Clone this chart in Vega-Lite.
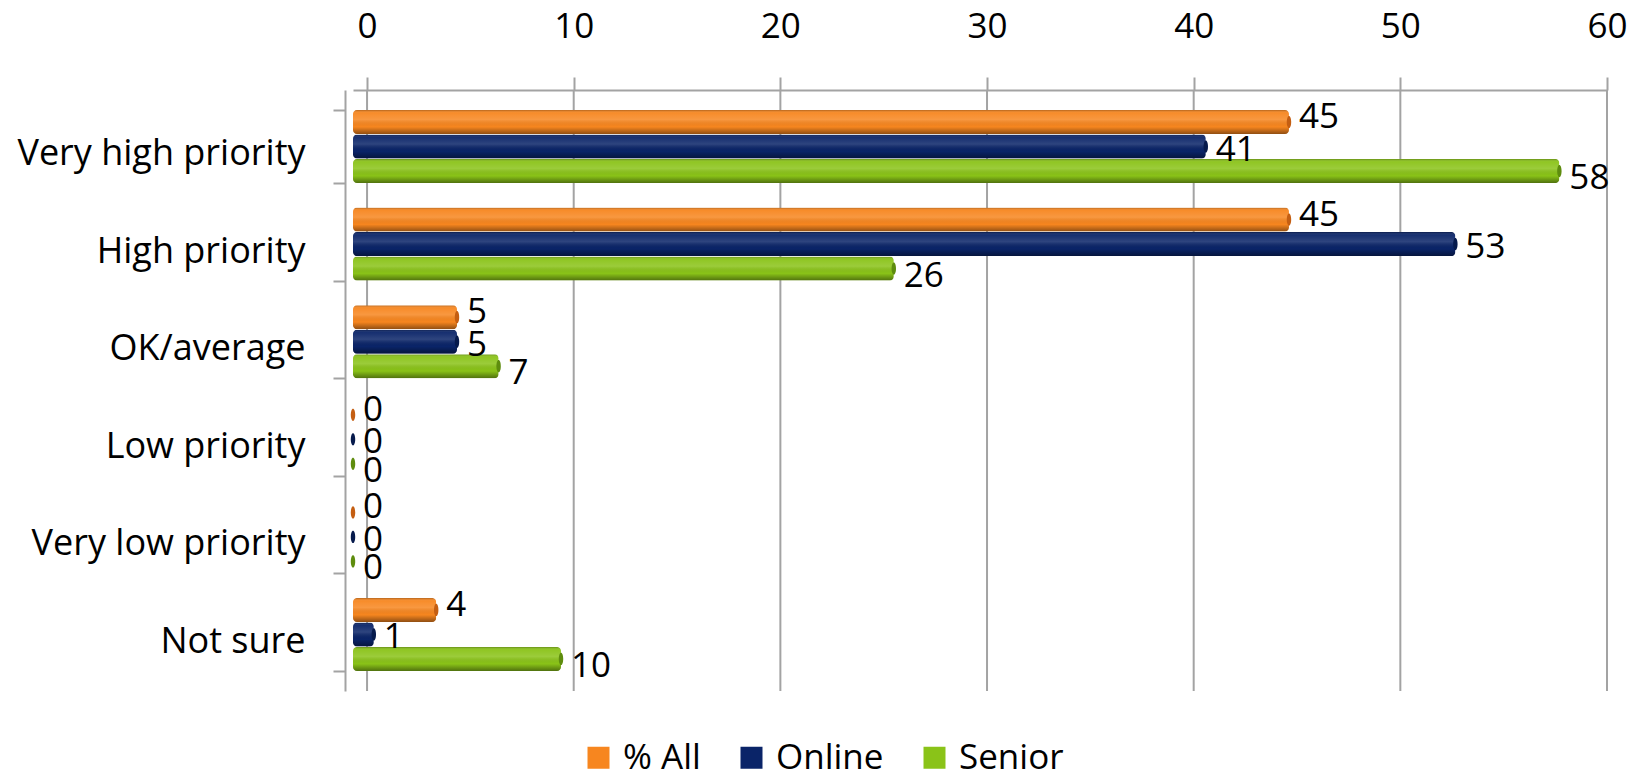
{
  "$schema": "https://vega.github.io/schema/vega-lite/v6.json",
  "width": 1254,
  "height": 601,
  "autosize": {"type": "none"},
  "padding": {"left": 353, "top": 90, "right": 26, "bottom": 87},
  "background": "white",
  "config": {
    "view": {"stroke": null},
    "font": "Open Sans",
    "axis": {"labelFont": "Open Sans", "labelColor": "black"}
  },
  "datasets": {
    "grid": [
      {"tick": 0}, {"tick": 10}, {"tick": 20}, {"tick": 30}, {"tick": 40}, {"tick": 50}, {"tick": 60}
    ],
    "bars": [
      {"category": "Very high priority", "series": "% All", "value": 45},
      {"category": "Very high priority", "series": "Online", "value": 41},
      {"category": "Very high priority", "series": "Senior", "value": 58},
      {"category": "High priority", "series": "% All", "value": 45},
      {"category": "High priority", "series": "Online", "value": 53},
      {"category": "High priority", "series": "Senior", "value": 26},
      {"category": "OK/average", "series": "% All", "value": 5},
      {"category": "OK/average", "series": "Online", "value": 5},
      {"category": "OK/average", "series": "Senior", "value": 7},
      {"category": "Low priority", "series": "% All", "value": 0},
      {"category": "Low priority", "series": "Online", "value": 0},
      {"category": "Low priority", "series": "Senior", "value": 0},
      {"category": "Very low priority", "series": "% All", "value": 0},
      {"category": "Very low priority", "series": "Online", "value": 0},
      {"category": "Very low priority", "series": "Senior", "value": 0},
      {"category": "Not sure", "series": "% All", "value": 4},
      {"category": "Not sure", "series": "Online", "value": 1},
      {"category": "Not sure", "series": "Senior", "value": 10}
    ]
  },
  "layer": [
    {
      "data": {"name": "grid"},
      "mark": {"type": "rule", "color": "#A3A3A3", "strokeWidth": 2},
      "encoding": {
        "x": {
          "field": "tick",
          "type": "quantitative",
          "scale": {"domain": [-0.68, 60], "nice": false, "zero": false},
          "axis": {
            "orient": "top",
            "title": null,
            "values": [0, 10, 20, 30, 40, 50, 60],
            "grid": false,
            "domainColor": "#A3A3A3",
            "domainWidth": 2,
            "tickColor": "#A3A3A3",
            "tickWidth": 2,
            "tickSize": 13,
            "labelFontSize": 35,
            "labelPadding": 33,
            "labelFlush": false,
            "labelOverlap": false
          }
        }
      }
    },
    {
      "data": {"name": "bars"},
      "encoding": {
        "y": {
          "field": "category",
          "type": "nominal",
          "sort": ["Very high priority", "High priority", "OK/average", "Low priority", "Very low priority", "Not sure"],
          "scale": {"paddingInner": 0.252, "paddingOuter": 0.205},
          "axis": {
            "title": null,
            "domainColor": "#A3A3A3",
            "domainWidth": 2,
            "tickColor": "#A3A3A3",
            "tickWidth": 2,
            "tickSize": 12,
            "tickBand": "extent",
            "tickOffset": 6,
            "offset": 8,
            "labelFontSize": 36,
            "labelLimit": 400,
            "labelPadding": 28,
            "labelOffset": 7
          }
        },
        "yOffset": {
          "field": "series",
          "type": "nominal",
          "sort": ["% All", "Online", "Senior"],
          "scale": {"paddingInner": 0.02, "paddingOuter": 0}
        },
        "x": {
          "field": "value",
          "type": "quantitative",
          "scale": {"domain": [0, 60.29], "nice": false},
          "axis": null
        }
      },
      "layer": [
        {
          "mark": {"type": "bar", "cornerRadius": 4},
          "encoding": {
            "color": {
              "field": "series",
              "type": "nominal",
              "sort": ["% All", "Online", "Senior"],
              "scale": {"domain": ["% All", "Online", "Senior"], "range": ["#F7861F", "#0A2468", "#8AC318"]},
              "legend": {
                "title": null,
                "orient": "none",
                "direction": "horizontal",
                "legendX": 228,
                "legendY": 650,
                "symbolType": "square",
                "symbolSize": 484,
                "symbolStrokeWidth": 0,
                "labelFontSize": 35,
                "labelFont": "Open Sans",
                "labelColor": "black",
                "columnPadding": 33,
                "labelOffset": 7
              }
            }
          }
        },
        {
          "mark": {
            "type": "bar",
            "cornerRadius": 4,
            "color": {
              "x1": 0, "y1": 0, "x2": 0, "y2": 1,
              "gradient": "linear",
              "stops": [
                {"offset": 0, "color": "rgba(0,0,0,0.28)"},
                {"offset": 0.12, "color": "rgba(255,255,255,0.05)"},
                {"offset": 0.4, "color": "rgba(255,255,255,0.15)"},
                {"offset": 0.7, "color": "rgba(0,0,0,0.0)"},
                {"offset": 1, "color": "rgba(0,0,0,0.42)"}
              ]
            }
          },
          "encoding": {}
        },
        {
          "mark": {
            "type": "point",
            "filled": true,
            "shape": "M0,-1A0.36,1 0 1,1 0,1A0.36,1 0 1,1 0,-1Z",
            "size": 150,
            "opacity": 1
          },
          "encoding": {
            "fill": {
              "field": "series",
              "type": "nominal",
              "scale": {"domain": ["% All", "Online", "Senior"], "range": ["#C45E12", "#061A4C", "#5E8C0E"]},
              "legend": null
            }
          }
        },
        {
          "transform": [{"filter": "datum.series === '% All'"}],
          "mark": {"type": "text", "align": "left", "baseline": "middle", "dx": 10, "dy": -5, "fontSize": 35, "font": "Open Sans", "color": "black"},
          "encoding": {"text": {"field": "value", "type": "quantitative"}}
        },
        {
          "transform": [{"filter": "datum.series === 'Online'"}],
          "mark": {"type": "text", "align": "left", "baseline": "middle", "dx": 10, "dy": 3, "fontSize": 35, "font": "Open Sans", "color": "black"},
          "encoding": {"text": {"field": "value", "type": "quantitative"}}
        },
        {
          "transform": [{"filter": "datum.series === 'Senior'"}],
          "mark": {"type": "text", "align": "left", "baseline": "middle", "dx": 10, "dy": 7, "fontSize": 35, "font": "Open Sans", "color": "black"},
          "encoding": {"text": {"field": "value", "type": "quantitative"}}
        }
      ],
      "resolve": {"scale": {"color": "independent", "fill": "independent"}}
    }
  ],
  "resolve": {"scale": {"x": "independent"}, "axis": {"x": "independent"}}
}
